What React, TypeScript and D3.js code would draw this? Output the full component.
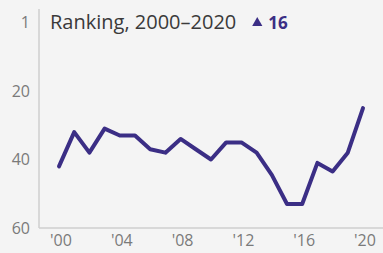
import { useRef, useEffect } from 'react';
import * as d3 from 'd3';

const years = [
  2000, 2001, 2002, 2003, 2004, 2005, 2006, 2007, 2008, 2009, 2010,
  2011, 2012, 2013, 2014, 2015, 2016, 2017, 2018, 2019, 2020,
];
const ranks = [42, 32, 38, 31, 33, 33, 37, 38, 34, 37, 40, 35, 35, 38, 44.5, 53, 53, 41, 43.5, 38, 25];

const yTickValues = [0, 20, 40, 60];
const yTickLabels = ['1', '20', '40', '60'];
const xTickValues = [2000, 2004, 2008, 2012, 2016, 2020];
const xTickLabels = ["'00", "'04", "'08", "'12", "'16", "'20"];

const title = 'Ranking, 2000–2020';
const change = '16';

export default function App() {
  const svgRef = useRef<SVGSVGElement>(null);
  const width = 383;
  const height = 253;

  useEffect(() => {
    const svg = d3.select(svgRef.current);
    svg.selectAll('*').remove();

    const font = "'Open Sans', Lato, sans-serif";
    const purple = '#3b2e85';

    svg.append('rect').attr('width', width).attr('height', height).attr('fill', '#f4f4f4');

    const x = d3.scaleLinear().domain([2000, 2020]).range([59, 363]);
    const y = d3.scaleLinear().domain([0, 60]).range([22.5, 228]);

    // axes
    svg.append('line')
      .attr('x1', 39).attr('x2', 39).attr('y1', 9).attr('y2', y(60))
      .attr('stroke', '#cfcfcf').attr('stroke-width', 1.5);
    svg.append('line')
      .attr('x1', 39).attr('x2', width).attr('y1', y(60)).attr('y2', y(60))
      .attr('stroke', '#cfcfcf').attr('stroke-width', 1.5);

    svg.selectAll('.ytick')
      .data(yTickValues)
      .join('text')
      .attr('class', 'ytick')
      .attr('x', 30)
      .attr('y', (d) => y(d))
      .attr('dy', '0.35em')
      .attr('text-anchor', 'end')
      .attr('fill', '#7a7a7a')
      .attr('font-size', '16px')
      .attr('font-family', font)
      .text((_d, i) => yTickLabels[i]);

    svg.selectAll('.xtick')
      .data(xTickValues)
      .join('text')
      .attr('class', 'xtick')
      .attr('x', (d) => x(d) + 2)
      .attr('y', 246)
      .attr('text-anchor', 'middle')
      .attr('fill', '#7a7a7a')
      .attr('font-size', '16px')
      .attr('font-family', font)
      .text((_d, i) => xTickLabels[i]);

    // title
    const t = svg.append('text')
      .attr('x', 50)
      .attr('y', 29)
      .attr('fill', '#3a3a3a')
      .attr('font-size', '20px')
      .attr('font-family', font)
      .text(title);
    const tw = (t.node() as SVGTextElement).getComputedTextLength();

    svg.append('path')
      .attr('d', d3.symbol(d3.symbolTriangle, 45)())
      .attr('transform', `translate(${50 + tw + 21},${23})`)
      .attr('fill', purple);
    svg.append('text')
      .attr('x', 50 + tw + 32)
      .attr('y', 29)
      .attr('fill', purple)
      .attr('font-size', '17px')
      .attr('font-weight', '700')
      .attr('font-family', font)
      .text(change);

    const line = d3.line<number>()
      .x((_d, i) => x(years[i]))
      .y((d) => y(d));

    svg.append('path')
      .datum(ranks)
      .attr('d', line)
      .attr('fill', 'none')
      .attr('stroke', purple)
      .attr('stroke-width', 4)
      .attr('stroke-linejoin', 'round')
      .attr('stroke-linecap', 'round');
  }, []);

  return (
    <svg
      ref={svgRef}
      width={width}
      height={height}
      style={{ position: 'absolute', left: 0, top: 0, display: 'block' }}
    />
  );
}
